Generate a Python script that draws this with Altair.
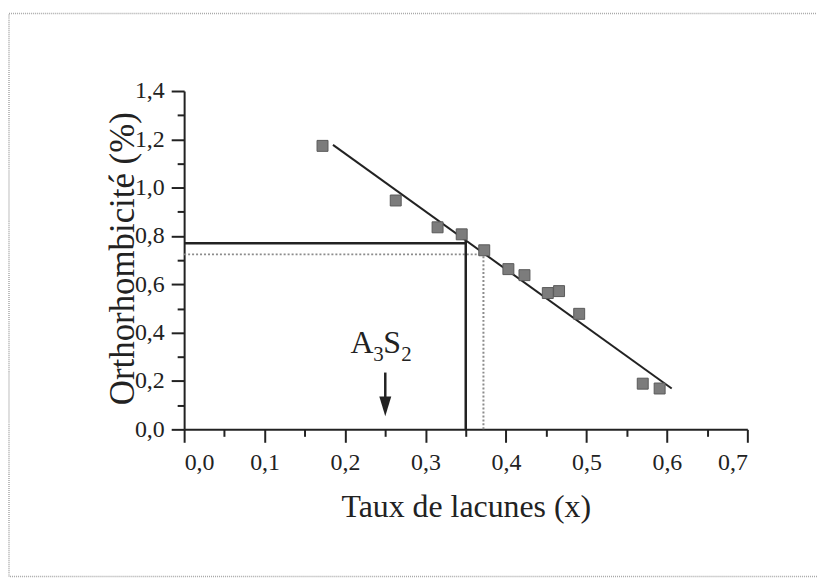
import altair as alt
import pandas as pd

# Measured points (Taux de lacunes x, Orthorhombicité %)
x_vals = [0.172, 0.263, 0.315, 0.345, 0.373, 0.403, 0.423, 0.452, 0.466, 0.491, 0.570, 0.591]
y_vals = [1.173, 0.947, 0.836, 0.807, 0.741, 0.663, 0.638, 0.564, 0.572, 0.478, 0.189, 0.169]

# Linear fit end points
fit_x = [0.185, 0.606]
fit_y = [1.177, 0.169]

# Construction lines (solid and dotted)
solid_x = 0.35
solid_y = 0.77
dotted_x = 0.372
dotted_y = 0.724

# A3S2 annotation
arrow_x = 0.25
arrow_top = 0.235
arrow_head = 0.095
label_y = 0.317

x_tick_values = [0.0, 0.05, 0.1, 0.15, 0.2, 0.25, 0.3, 0.35, 0.4, 0.45, 0.5, 0.55, 0.6, 0.65, 0.7]
y_tick_values = [0.0, 0.1, 0.2, 0.3, 0.4, 0.5, 0.6, 0.7, 0.8, 0.9, 1.0, 1.1, 1.2, 1.3, 1.4]

FONT = "Liberation Serif"
INK = "#222222"

x_major = "abs(datum.value*10 - round(datum.value*10)) < 0.001"
y_major = "abs(datum.value*5 - round(datum.value*5)) < 0.001"

x_axis = alt.Axis(
    values=x_tick_values,
    labelExpr=f"{x_major} ? replace(format(datum.value, '.1f'), '.', ',') : ''",
    tickSize={"condition": {"test": x_major, "value": 13}, "value": 7},
    labelPadding=8,
    labelFont=FONT, labelFontSize=24, labelColor=INK,
    title="Taux de lacunes (x)",
    titleFont=FONT,
    titleFontSize=32,
    titleY=88,
    titleBaseline="alphabetic",
    grid=False,
)
y_axis = alt.Axis(
    values=y_tick_values,
    labelExpr=f"{y_major} ? replace(format(datum.value, '.1f'), '.', ',') : ''",
    tickSize={"condition": {"test": y_major, "value": 13}, "value": 7},
    labelPadding=7,
    labelFont=FONT, labelFontSize=24, labelColor=INK,
    title="Orthorhombicité (%)",
    titleFont=FONT,
    titleFontSize=35,
    titleX=-62,
    titleY=168,
    titleBaseline="middle",
    titleAngle=-90,
    grid=False,
)

xs = alt.Scale(domain=[0, 0.7], nice=False, zero=False)
ys = alt.Scale(domain=[0, 1.4], nice=False, zero=False)

X = alt.X("x:Q", scale=xs, axis=x_axis)
Y = alt.Y("y:Q", scale=ys, axis=y_axis)

pts = pd.DataFrame({"x": x_vals, "y": y_vals})
fit = pd.DataFrame({"x": fit_x, "y": fit_y})
solid = pd.DataFrame({"x": [0.0, solid_x], "x2": [solid_x, solid_x],
                      "y": [solid_y, 0.0], "y2": [solid_y, solid_y + 0.01]})
dotted = pd.DataFrame({"x": [0.0, dotted_x], "x2": [dotted_x, dotted_x],
                       "y": [dotted_y, 0.0], "y2": [dotted_y, dotted_y]})
arrow = pd.DataFrame({"x": [arrow_x], "y": [arrow_top], "y2": [arrow_head + 0.03]})
head = pd.DataFrame({"x": [arrow_x], "y": [arrow_head]})
lab = pd.DataFrame({"x": [arrow_x], "y": [label_y]})

frame = alt.Chart(pd.DataFrame({"a": [0]})).mark_rect(
    fillOpacity=0, stroke="#a8a8a8", strokeWidth=1.5, strokeDash=[1, 1]
).encode(x=alt.value(-176), x2=alt.value(700), y=alt.value(-78), y2=alt.value(488))

dotted_layer = alt.Chart(dotted).mark_rule(color="#8c8c8c", strokeWidth=2, strokeDash=[2, 2]).encode(
    x=X, x2="x2:Q", y=Y, y2="y2:Q")
solid_layer = alt.Chart(solid).mark_rule(color=INK, strokeWidth=2.5).encode(
    x=X, x2="x2:Q", y=Y, y2="y2:Q")
fit_layer = alt.Chart(fit).mark_line(color=INK, strokeWidth=2).encode(x=X, y=Y)
pts_layer = alt.Chart(pts).mark_square(size=121, fill="#7c7c7c", stroke="#5a5a5a",
                                       strokeWidth=1, opacity=1).encode(x=X, y=Y)
arrow_layer = alt.Chart(arrow).mark_rule(color=INK, strokeWidth=2.5).encode(x=X, y=Y, y2="y2:Q")
head_layer = alt.Chart(head).mark_point(shape="M-0.6,-1L0.6,-1L0,1Z", size=400, filled=True,
                                        color=INK, opacity=1).encode(x=X, y=Y)

def txt(s, dx, dy, size):
    return alt.Chart(lab).mark_text(text=s, align="left", baseline="alphabetic", dx=dx, dy=dy,
                                    fontSize=size, font=FONT, color=INK).encode(x=X, y=Y)

label_layers = [txt("A", -35, 0, 32), txt("3", -12, 8, 21), txt("S", -2, 0, 32), txt("2", 16, 8, 21)]

chart = alt.layer(frame, dotted_layer, solid_layer, fit_layer, pts_layer, arrow_layer, head_layer,
                  *label_layers).properties(
    width=566, height=340,
    autosize=alt.AutoSizeParams(type="none"),
    padding={"left": 177, "top": 82, "right": 70, "bottom": 155},
    background="white",
).configure_view(stroke=None).configure_axis(
    domainColor=INK, domainWidth=2, tickColor=INK, tickWidth=2,
    labelFont=FONT, labelFontSize=24, labelColor=INK,
    titleFont=FONT, titleColor=INK, titleFontWeight="normal",
)

chart.save("out.html", embed_options={"renderer": "svg", "actions": False})
